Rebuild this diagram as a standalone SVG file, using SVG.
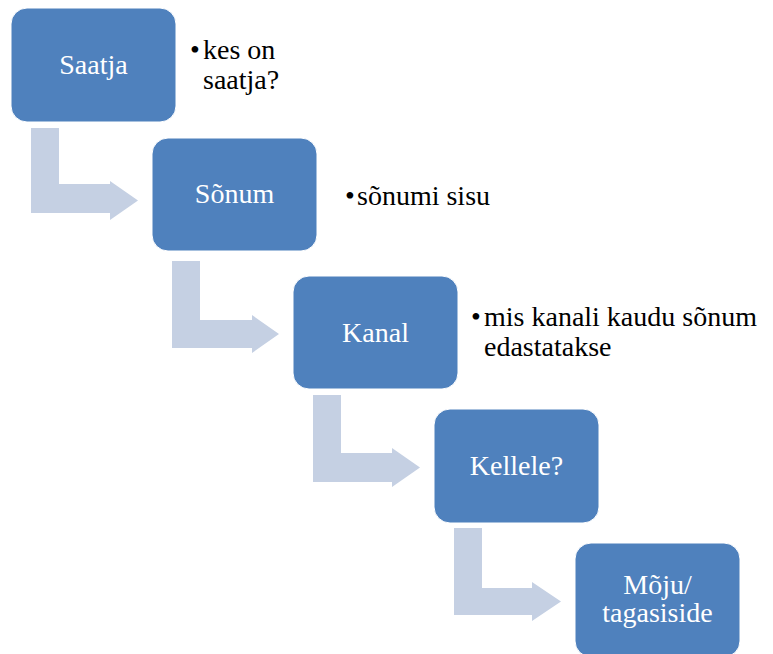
<svg xmlns="http://www.w3.org/2000/svg" width="773" height="654" viewBox="0 0 773 654">
<defs>
<style>
.box{fill:#4F81BD;stroke:#FFFFFF;stroke-width:1}
.arr{fill:#C5D0E3}
</style>
</defs>
<rect width="773" height="654" fill="#FFFFFF"/>
<g id="connectors">
<path class="arr" d="M31,128 H59 V184 H110 V181 L138,200.5 L110,220 V213 H31 Z"/>
<path class="arr" d="M172,261 H200 V320 H252 V315 L279,334 L252,353 V348 H172 Z"/>
<path class="arr" d="M313,395 H341 V453 H392 V448 L420,467.5 L392,487 V482 H313 Z"/>
<path class="arr" d="M454,528 H482 V588 H532 V582 L561,601.5 L532,621 V615 H454 Z"/>
</g>
<g id="node-saatja">
<rect class="box" x="11" y="8" width="165" height="114" rx="16"/>
<text x="93.5" y="74" font-family="Liberation Serif" font-size="28" fill="#FFFFFF" text-anchor="middle">Saatja</text>
</g>
<g id="note-saatja" font-family="Liberation Serif" font-size="28" fill="#000000">
<text x="190" y="59">•</text>
<text x="203" y="59">kes on</text>
<text x="203" y="89">saatja?</text>
</g>
<g id="node-sonum">
<rect class="box" x="152" y="138" width="165" height="113" rx="16"/>
<text x="234.5" y="203" font-family="Liberation Serif" font-size="28" fill="#FFFFFF" text-anchor="middle">Sõnum</text>
</g>
<g id="note-sonum" font-family="Liberation Serif" font-size="28" fill="#000000">
<text x="345" y="205">•</text>
<text x="357" y="205">sõnumi sisu</text>
</g>
<g id="node-kanal">
<rect class="box" x="293" y="276" width="165" height="113" rx="16"/>
<text x="375.5" y="341.5" font-family="Liberation Serif" font-size="28" fill="#FFFFFF" text-anchor="middle">Kanal</text>
</g>
<g id="note-kanal" font-family="Liberation Serif" font-size="28" fill="#000000">
<text x="471" y="326">•</text>
<text x="484" y="326">mis kanali kaudu sõnum</text>
<text x="484" y="356">edastatakse</text>
</g>
<g id="node-kellele">
<rect class="box" x="434" y="409" width="165" height="114" rx="16"/>
<text x="516.5" y="475" font-family="Liberation Serif" font-size="28" fill="#FFFFFF" text-anchor="middle">Kellele?</text>
</g>
<g id="node-moju" font-family="Liberation Serif" font-size="28" fill="#FFFFFF" text-anchor="middle">
<rect class="box" x="575" y="543" width="165" height="114" rx="16"/>
<text x="657.5" y="594">Mõju/</text>
<text x="657.5" y="622">tagasiside</text>
</g>
</svg>
